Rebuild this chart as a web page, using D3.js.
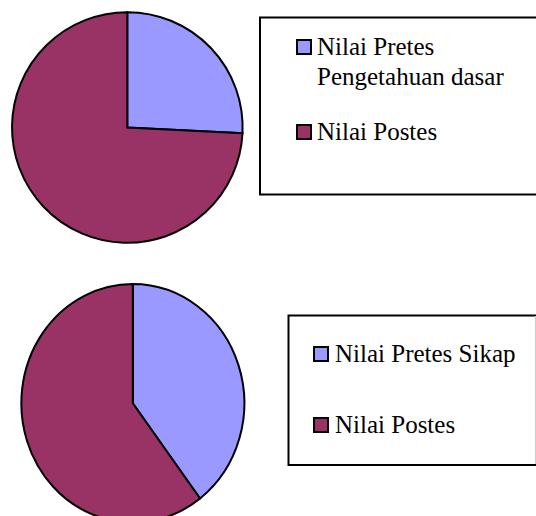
<!DOCTYPE html>
<html><head><meta charset="utf-8">
<script src="https://cdn.jsdelivr.net/npm/d3@7"></script>
<style>html,body{margin:0;padding:0;background:#fff;overflow:hidden}
text{font-family:"Liberation Serif","Times New Roman",Tinos,"DejaVu Serif",serif}</style>
</head><body>
<svg id="c" width="536" height="516"></svg>
<script>
const categoriesTop = ["Nilai Pretes Pengetahuan dasar", "Nilai Postes"];
const valuesTop = [25.8, 74.2];
const categoriesBottom = ["Nilai Pretes Sikap", "Nilai Postes"];
const valuesBottom = [39.7, 60.3];
const colors = ["#9999FF", "#993366"];

const svg = d3.select("#c");
const pie = d3.pie().sort(null).value(d => d);
const arcUnit = d3.arc().innerRadius(0).outerRadius(1);

function drawPie(values, cx, cy, rx, ry) {
  const g = svg.append("g").attr("transform", `translate(${cx},${cy}) scale(${rx},${ry})`);
  g.selectAll("path").data(pie(values)).join("path")
    .attr("d", arcUnit)
    .attr("fill", (d, i) => colors[i])
    .attr("stroke", "#000")
    .attr("stroke-width", 2)
    .attr("stroke-linejoin", "miter")
    .attr("vector-effect", "non-scaling-stroke");
}
drawPie(valuesTop, 127.3, 127.5, 115.3, 115.3);
drawPie(valuesBottom, 132.8, 403.3, 111.5, 119.3);

const fs = 25;
// top legend
svg.append("rect").attr("x", 260).attr("y", 17.5).attr("width", 300).attr("height", 177)
  .attr("fill", "#fff").attr("stroke", "#000").attr("stroke-width", 2);
const topLines = [["Nilai Pretes", "Pengetahuan dasar"], ["Nilai Postes"]];
const topY = [55, 140];
topLines.forEach((lines, i) => {
  svg.append("rect").attr("x", 297).attr("y", topY[i] - 15).attr("width", 14).attr("height", 14)
    .attr("fill", colors[i]).attr("stroke", "#000").attr("stroke-width", 2);
  const t = svg.append("text").attr("x", 317).attr("y", topY[i])
    .attr("font-size", fs).attr("fill", "#000");
  lines.forEach((l, j) => t.append("tspan").attr("x", 317).attr("dy", j ? 30 : 0).text(l));
});
// bottom legend
svg.append("rect").attr("x", 288.5).attr("y", 315.5).attr("width", 260).attr("height", 149.5)
  .attr("fill", "#fff").attr("stroke", "#000").attr("stroke-width", 2);
svg.append("line").attr("x1", 535.5).attr("x2", 535.5).attr("y1", 316).attr("y2", 464)
  .attr("stroke", "#ccc").attr("stroke-width", 1);
const botY = [362, 433];
categoriesBottom.forEach((c, i) => {
  svg.append("rect").attr("x", 314).attr("y", botY[i] - 15).attr("width", 14).attr("height", 14)
    .attr("fill", colors[i]).attr("stroke", "#000").attr("stroke-width", 2);
  svg.append("text").attr("x", 335).attr("y", botY[i])
    .attr("font-size", fs).attr("fill", "#000").text(c);
});
</script>
</body></html>
